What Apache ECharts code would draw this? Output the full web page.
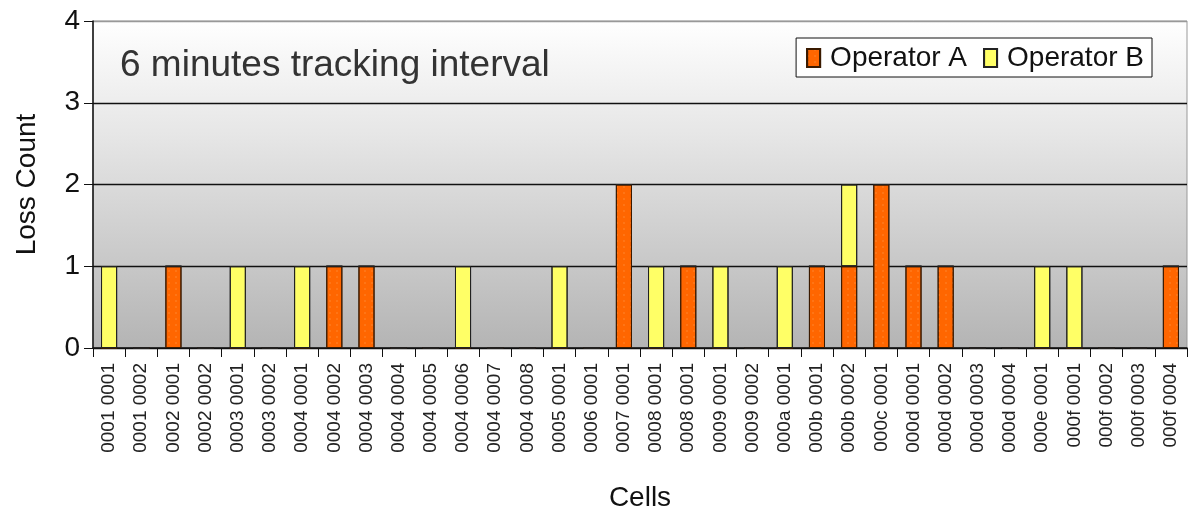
<!DOCTYPE html>
<html>
<head>
<meta charset="utf-8">
<script src="https://cdn.jsdelivr.net/npm/echarts@6/dist/echarts.min.js"></script>
<style>html,body{margin:0;padding:0;background:#fff}#c{width:1200px;height:517px}</style>
</head>
<body>
<div id="c"></div>
<script>
const categories = ['0001 0001','0001 0002','0002 0001','0002 0002','0003 0001','0003 0002','0004 0001','0004 0002','0004 0003','0004 0004','0004 0005','0004 0006','0004 0007','0004 0008','0005 0001','0006 0001','0007 0001','0008 0001','0008 0001','0009 0001','0009 0002','000a 0001','000b 0001','000b 0002','000c 0001','000d 0001','000d 0002','000d 0003','000d 0004','000e 0001','000f 0001','000f 0002','000f 0003','000f 0004'];
const operatorA = [0,0,1,0,0,0,0,1,1,0,0,0,0,0,0,0,2,0,1,0,0,0,1,1,2,1,1,0,0,0,0,0,0,1];
const operatorB = [1,0,0,0,1,0,1,0,0,0,0,1,0,0,1,0,0,1,0,1,0,1,0,1,0,0,0,0,0,1,1,0,0,0];
const yTicks = [0,1,2,3,4];
const seriesNames = ['Operator A','Operator B'];

const chart = echarts.init(document.getElementById('c'));
const font = 'Liberation Sans, Arial, sans-serif';
chart.setOption({
  animation: false,
  aria: {enabled: true, decal: {show: true}},
  textStyle: {fontFamily: font},
  title: {
    text: '6 minutes tracking interval',
    left: 115, top: 42,
    textStyle: {fontSize: 37, fontWeight: 'normal', color: '#333', fontFamily: font}
  },
  legend: {
    data: seriesNames,
    right: 48, top: 38,
    orient: 'horizontal',
    borderColor: '#111', borderWidth: 1,
    backgroundColor: '#fff',
    padding: [6, 8, 5, 10],
    itemGap: 16,
    itemWidth: 13, itemHeight: 18,
    textStyle: {fontSize: 28, color: '#111', fontFamily: font, padding: [0,0,0,5]},
    icon: 'rect'
  },
  grid: {
    left: 93, right: 13, top: 21, bottom: 168,
    show: true,
    borderColor: '#999', borderWidth: 1,
    backgroundColor: {type: 'linear', x: 0, y: 0, x2: 0, y2: 1,
      colorStops: [{offset: 0, color: '#ffffff'}, {offset: 0.35, color: '#e6e6e6'}, {offset: 1, color: '#b4b4b4'}]}
  },
  xAxis: {
    type: 'category',
    data: categories,
    boundaryGap: true,
    name: 'Cells',
    nameLocation: 'middle',
    nameGap: 136,
    nameTextStyle: {fontSize: 28, color: '#111', fontFamily: font},
    axisLine: {lineStyle: {color: '#111', width: 1.5}},
    axisTick: {show: true, length: 9, lineStyle: {color: '#111'}, interval: 0},
    axisLabel: {interval: 0, rotate: 90, fontSize: 19, color: '#222', margin: 15, fontFamily: font}
  },
  yAxis: {
    type: 'value',
    min: 0, max: 4, interval: 1,
    name: 'Loss Count',
    nameLocation: 'middle',
    nameGap: 52,
    nameTextStyle: {fontSize: 28, color: '#111', fontFamily: font},
    axisLine: {show: true, lineStyle: {color: '#111', width: 1.5}},
    axisTick: {show: true, length: 9, lineStyle: {color: '#111'}},
    axisLabel: {fontSize: 28, color: '#111', margin: 13, fontFamily: font,
      formatter: v => yTicks.includes(v) ? String(v) : ''},
    splitLine: {show: true, lineStyle: {color: ['#111','#111','#111','#111','#999'], width: 1.3}}
  },
  series: [
    {
      name: seriesNames[0], type: 'bar', stack: 'loss', data: operatorA,
      barWidth: '50%',
      itemStyle: {color: '#ff6600', borderColor: '#3a1a00', borderWidth: 1,
        decal: {symbol: 'rect', symbolSize: 0.5, color: 'rgba(255,200,140,0.6)', dashArrayX: [[2, 5]], dashArrayY: [2, 4], rotation: 0}}
    },
    {
      name: seriesNames[1], type: 'bar', stack: 'loss', data: operatorB,
      barWidth: '50%',
      itemStyle: {color: '#ffff66', borderColor: '#222', borderWidth: 1, decal: {symbol: 'none'}}
    }
  ]
});
</script>
</body>
</html>
